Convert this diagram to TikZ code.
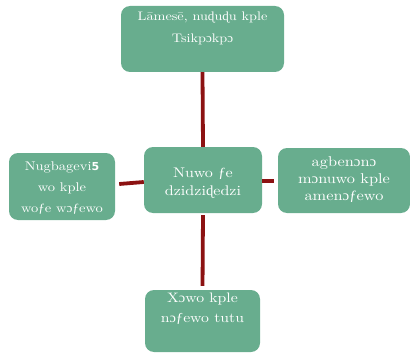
\documentclass[tikz,border=0pt]{standalone}
\usepackage{fontspec}
\setmainfont{lmroman10-regular.otf}[FakeStretch=1.15]
\newfontfamily\fivefont{DejaVu Sans}
\newfontfamily\fbfont{Liberation Serif}[FakeStretch=1.05]
\newcommand{\xo}{{\fbfont ɔ}}
\newcommand{\xd}{{\fbfont ɖ}}
\newcommand{\xf}{{\fbfont ƒ}}
\definecolor{boxgreen}{HTML}{68AD8E}
\definecolor{connred}{HTML}{8C1212}
\tikzset{
  box/.style={fill=boxgreen, rounded corners=9pt, inner sep=0pt, text=white},
  conn/.style={draw=connred, line width=3.8pt}
}
% width, height, font size, baseline skip, first baseline offset, text
\newcommand{\boxtext}[6]{\parbox[c][#2][t]{#1}{\centering\fontsize{#3}{#4}\selectfont\rule{0pt}{#5}#6\par}}
\begin{document}
\begin{tikzpicture}[x=1pt,y=-1pt]
\useasboundingbox (0,0) rectangle (410,353);
\node[box] (top) at (202.5,39) {\boxtext{163pt}{66pt}{12.4pt}{22pt}{15pt}{Lāmesē, nu\xd u\xd u kple\\Tsikp\xo kp\xo}};
\node[box] (left) at (62,186.5) {\boxtext{106pt}{67pt}{12.6pt}{21pt}{17pt}{Nugbagevi{\fivefont\bfseries\fontsize{11}{11}\selectfont 5}\\wo kple\\wo\xf e w\xo\xf ewo}};
\node[box] (center) at (203,180) {\boxtext{118pt}{66pt}{14pt}{18pt}{30pt}{Nuwo \xf e\\dzidzi\xd edzi}};
\node[box] (right) at (344,180.5) {\boxtext{132pt}{65pt}{14.2pt}{17pt}{18.7pt}{agben\xo n\xo\\m\xo nuwo kple\\amen\xo\xf ewo}};
\node[box] (bottom) at (202.5,321) {\boxtext{115pt}{62pt}{13.7pt}{20pt}{12.3pt}{X\xo wo kple\\n\xo\xf ewo tutu}};
\draw[conn] (top.south) -- (center.north);
\draw[conn, shorten <=2pt, shorten >=4pt] (center.south) -- (bottom.north);
\draw[conn] ([xshift=4pt,yshift=2.5pt]left.east) -- ([yshift=-2pt]center.west);
\draw[conn] ([yshift=-1pt]center.east) -- ([xshift=-4pt,yshift=-0.5pt]right.west);
\end{tikzpicture}
\end{document}
